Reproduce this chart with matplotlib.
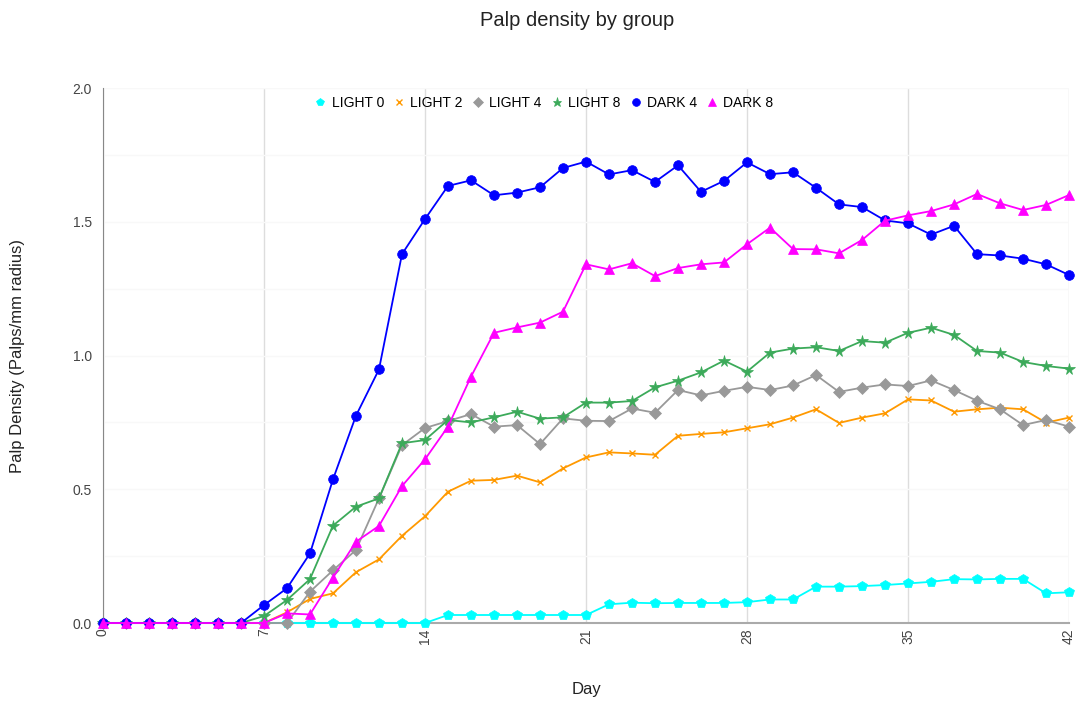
import matplotlib
matplotlib.use("Agg")
import matplotlib.pyplot as plt
import numpy as np

plt.rcParams['font.family'] = ['Liberation Sans', 'DejaVu Sans']

days = list(range(0, 43))

light0 = [0]*15 + [0.03]*7 + [0.07, 0.076, 0.074, 0.075, 0.075, 0.075, 0.078, 0.088, 0.088,
                              0.136, 0.136, 0.138, 0.142, 0.148, 0.154, 0.164, 0.163, 0.165, 0.165,
                              0.111, 0.115]
light2 = [0]*8 + [0.04, 0.09, 0.111, 0.19, 0.238, 0.326, 0.399, 0.491, 0.532, 0.535, 0.551, 0.526,
                  0.578, 0.619, 0.638, 0.634, 0.629, 0.700, 0.707, 0.713, 0.728, 0.743, 0.768,
                  0.799, 0.748, 0.768, 0.784, 0.836, 0.832, 0.790, 0.799, 0.805, 0.799, 0.749, 0.768]
light4 = [0]*9 + [0.117, 0.197, 0.273, 0.466, 0.665, 0.729, 0.755, 0.781, 0.734, 0.740, 0.669,
                  0.765, 0.756, 0.755, 0.802, 0.786, 0.871, 0.851, 0.868, 0.883, 0.871, 0.888,
                  0.927, 0.864, 0.880, 0.892, 0.886, 0.907, 0.871, 0.831, 0.799, 0.740, 0.759, 0.734]
light8 = [0]*7 + [0.026, 0.086, 0.164, 0.364, 0.435, 0.466, 0.672, 0.684, 0.759, 0.750, 0.769,
                  0.790, 0.764, 0.769, 0.824, 0.824, 0.830, 0.881, 0.906, 0.937, 0.981, 0.940,
                  1.011, 1.026, 1.031, 1.017, 1.054, 1.048, 1.085, 1.104, 1.077, 1.017, 1.011,
                  0.976, 0.961, 0.951]
dark4 = [0]*7 + [0.067, 0.13, 0.26, 0.537, 0.775, 0.948, 1.379, 1.51, 1.634, 1.655, 1.599, 1.609,
                 1.629, 1.701, 1.725, 1.677, 1.693, 1.649, 1.711, 1.612, 1.653, 1.722, 1.678,
                 1.685, 1.627, 1.565, 1.555, 1.505, 1.494, 1.452, 1.485, 1.379, 1.374, 1.362,
                 1.341, 1.301]
dark8 = [0]*8 + [0.036, 0.032, 0.17, 0.304, 0.363, 0.512, 0.612, 0.734, 0.921, 1.085, 1.105, 1.123,
                 1.164, 1.341, 1.322, 1.345, 1.297, 1.327, 1.341, 1.348, 1.416, 1.478, 1.398,
                 1.397, 1.382, 1.432, 1.504, 1.524, 1.540, 1.565, 1.604, 1.569, 1.544, 1.563, 1.6]

labels = ["LIGHT 0", "LIGHT 2", "LIGHT 4", "LIGHT 8", "DARK 4", "DARK 8"]
xticks = [0, 7, 14, 21, 28, 35, 42]
yticks = [0.0, 0.5, 1.0, 1.5, 2.0]

series = [light0, light2, light4, light8, dark4, dark8]
colors = ["#00FFFF", "#FF9900", "#999999", "#3CAA5A", "#0000FF", "#FF00FF"]
markers = ["p", "x", "D", "*", "o", "^"]
msizes = [7, 5, 6, 8.5, 7, 7.5]
zorders = [3, 4, 5, 6, 7, 8]

fig = plt.figure(figsize=(10.78, 7.02), dpi=100)
ax = fig.add_axes([0.0955, 0.1125, 0.8962, 0.7621])

for s, lab, c, m, ms, z in zip(series, labels, colors, markers, msizes, zorders):
    ax.plot(days, s, color=c, marker=m, markersize=ms, linewidth=1.3, label=lab,
            markeredgecolor=c, markeredgewidth=1.0 if m == "x" else 0.5,
            clip_on=False, zorder=z)

ax.set_xlim(0, 42)
ax.set_ylim(0, 2.0)
ax.set_xticks(xticks)
ax.set_xticklabels([str(t) for t in xticks], rotation=90, fontsize=10, color="#444444")
ax.set_yticks(yticks)
ax.set_yticklabels([f"{t:.1f}" for t in yticks], fontsize=10, color="#444444")
ax.set_yticks(np.arange(0, 2.01, 0.25), minor=True)
ax.tick_params(axis="x", length=0, pad=4)
ax.tick_params(axis="y", length=0, pad=8)
ax.tick_params(axis="y", which="minor", length=0)

ax.grid(axis="x", color="#DDDDDD", linewidth=1.0)
ax.grid(axis="y", which="both", color="#F8F8F8", linewidth=1.0)
ax.set_axisbelow(True)

for sp in ["top", "right"]:
    ax.spines[sp].set_visible(False)
ax.spines["left"].set_color("#888888")
ax.spines["bottom"].set_color("#AAAAAA")
ax.spines["bottom"].set_linewidth(1.5)

ax.set_xlabel("Day", fontsize=12, color="#222222", va="center")
ax.xaxis.set_label_coords(0.5, -0.125)
ax.set_ylabel("Palp Density (Palps/mm radius)", fontsize=12, color="#222222", va="center")
ax.yaxis.set_label_coords(-0.088, 0.5)

fig.text(0.535, 0.985, "Palp density by group", ha="center", va="top", fontsize=14.5, color="#222222")

ax.legend(loc="upper center", bbox_to_anchor=(0.456, 1.008), ncol=6, frameon=False,
          fontsize=10, handletextpad=0.3, columnspacing=0.6, handlelength=1.0,
          markerscale=0.8)
for line in ax.get_legend().get_lines():
    line.set_linestyle("none")

fig.savefig("out.png", dpi=100)
